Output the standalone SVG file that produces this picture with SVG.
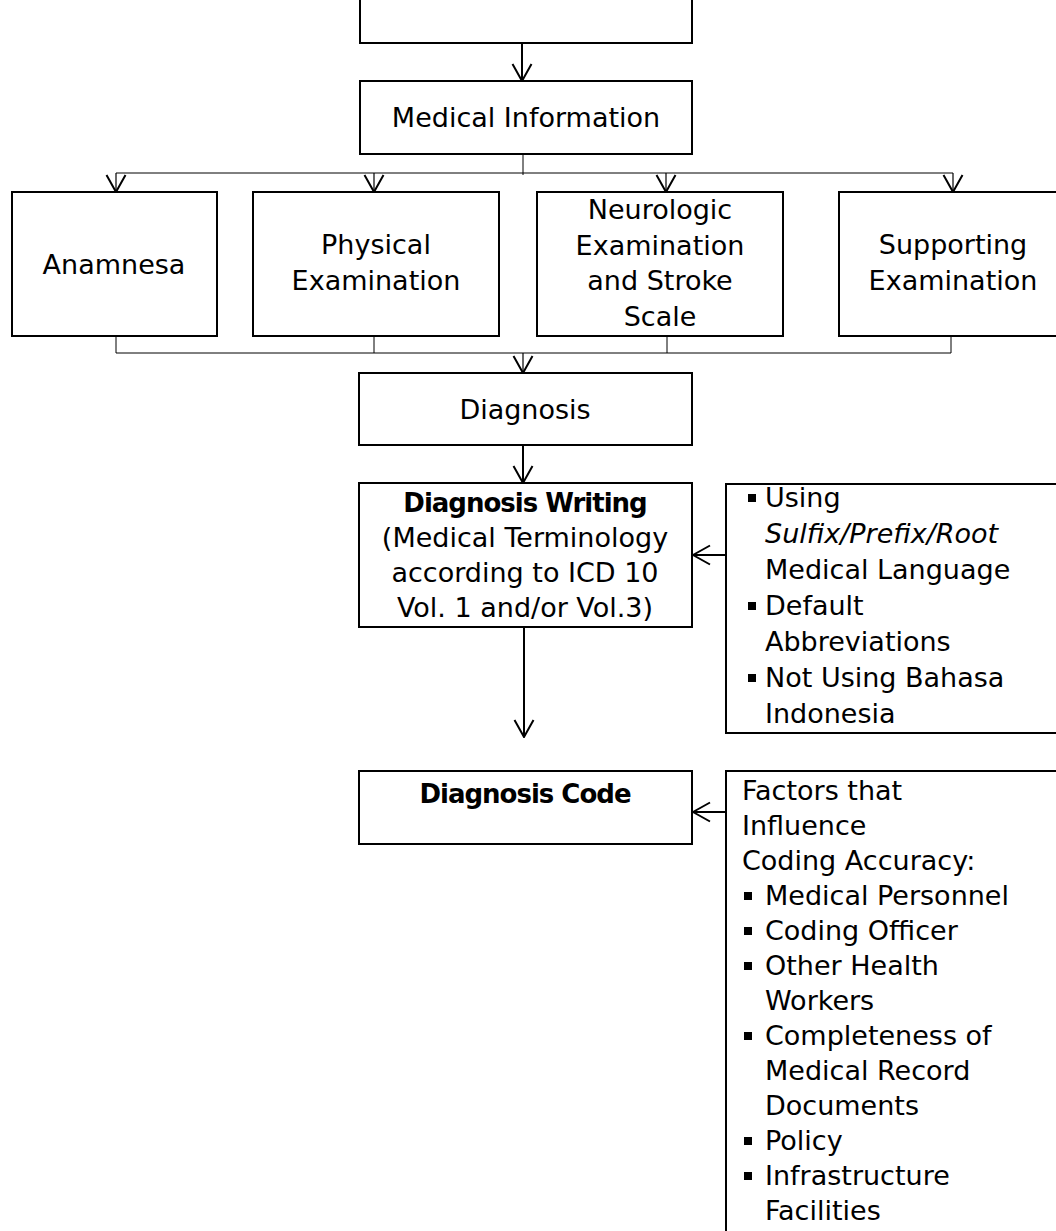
<svg xmlns="http://www.w3.org/2000/svg" width="1056" height="1231" viewBox="0 0 1056 1231">
<style>
.box{fill:#fff;stroke:#000;stroke-width:2}
.t{font-family:"DejaVu Sans",Verdana,sans-serif;font-size:27px;fill:#000}
.c{text-anchor:middle}
.b{font-weight:bold;font-size:26px;letter-spacing:-1px}
.i{font-style:italic}
.bul{fill:#000}
.thin{fill:none;stroke:#000;stroke-width:1}
.arr{fill:none;stroke:#000;stroke-width:2;marker-end:url(#ah)}
.arr1{fill:none;stroke:#000;stroke-width:1.2;marker-end:url(#ah)}
</style>
<defs>
<marker id="ah" viewBox="0 0 20 22" refX="19" refY="11" markerWidth="20" markerHeight="22" markerUnits="userSpaceOnUse" orient="auto">
<path d="M2,1.5 L19,11 L2,20.5" fill="none" stroke="#000" stroke-width="2"/>
</marker>
</defs>
<rect width="1056" height="1231" fill="#fff"/>

<g id="top-box"><rect class="box" x="360" y="-20" width="332" height="63"/></g>

<g id="medical-information"><rect class="box" x="360" y="81" width="332" height="73"/>
<text class="t c" x="526" y="127">Medical Information</text></g>

<g id="anamnesa"><rect class="box" x="12" y="192" width="205" height="144"/>
<text class="t c" x="114" y="274">Anamnesa</text></g>

<g id="physical"><rect class="box" x="253" y="192" width="246" height="144"/>
<text class="t c" x="376" y="254">Physical</text>
<text class="t c" x="376" y="290">Examination</text></g>

<g id="neurologic"><rect class="box" x="537" y="192" width="246" height="144"/>
<text class="t c" x="660" y="219">Neurologic</text>
<text class="t c" x="660" y="254.5">Examination</text>
<text class="t c" x="660" y="290">and Stroke</text>
<text class="t c" x="660" y="325.5">Scale</text></g>

<g id="supporting"><rect class="box" x="839" y="192" width="228" height="144"/>
<text class="t c" x="953" y="254">Supporting</text>
<text class="t c" x="953" y="290">Examination</text></g>

<g id="diagnosis"><rect class="box" x="359" y="373" width="333" height="72"/>
<text class="t c" x="525" y="419">Diagnosis</text></g>

<g id="diagnosis-writing"><rect class="box" x="359" y="483" width="333" height="144"/>
<text class="t c b" x="525" y="512">Diagnosis Writing</text>
<text class="t c" x="525" y="547">(Medical Terminology</text>
<text class="t c" x="525" y="582">according to ICD 10</text>
<text class="t c" x="525" y="617">Vol. 1 and/or Vol.3)</text></g>

<g id="writing-rules"><rect class="box" x="726" y="484" width="340" height="249"/>
<rect class="bul" x="748" y="494" width="8" height="8"/>
<text class="t" x="765" y="507">Using</text>
<text class="t i" x="765" y="543">Sulfix/Prefix/Root</text>
<text class="t" x="765" y="579">Medical Language</text>
<rect class="bul" x="748" y="602" width="8" height="8"/>
<text class="t" x="765" y="615">Default</text>
<text class="t" x="765" y="651">Abbreviations</text>
<rect class="bul" x="748" y="674" width="8" height="8"/>
<text class="t" x="765" y="687">Not Using Bahasa</text>
<text class="t" x="765" y="723">Indonesia</text></g>

<g id="diagnosis-code"><rect class="box" x="359" y="771" width="333" height="73"/>
<text class="t c b" x="525" y="803">Diagnosis Code</text></g>

<g id="factors"><rect class="box" x="726" y="771" width="340" height="480"/>
<text class="t" x="742" y="800">Factors that</text>
<text class="t" x="742" y="835">Influence</text>
<text class="t" x="742" y="870">Coding Accuracy:</text>
<rect class="bul" x="744" y="892" width="8" height="8"/>
<text class="t" x="765" y="905">Medical Personnel</text>
<rect class="bul" x="744" y="927" width="8" height="8"/>
<text class="t" x="765" y="940">Coding Officer</text>
<rect class="bul" x="744" y="962" width="8" height="8"/>
<text class="t" x="765" y="975">Other Health</text>
<text class="t" x="765" y="1010">Workers</text>
<rect class="bul" x="744" y="1032" width="8" height="8"/>
<text class="t" x="765" y="1045">Completeness of</text>
<text class="t" x="765" y="1080">Medical Record</text>
<text class="t" x="765" y="1115">Documents</text>
<rect class="bul" x="744" y="1137" width="8" height="8"/>
<text class="t" x="765" y="1150">Policy</text>
<rect class="bul" x="744" y="1172" width="8" height="8"/>
<text class="t" x="765" y="1185">Infrastructure</text>
<text class="t" x="765" y="1220">Facilities</text></g>

<g id="connectors">
<path class="arr" d="M522,43 V81"/>
<path class="thin" d="M523,154 V175 M116,173 H953"/>
<path class="arr1" d="M116,173 V192"/>
<path class="arr1" d="M374,173 V192"/>
<path class="arr1" d="M666,173 V192"/>
<path class="arr1" d="M953,173 V192"/>
<path class="thin" d="M116,336 V353 M374,336 V353 M667,336 V353 M951,336 V353 M116,353 H951"/>
<path class="arr1" d="M523,353 V373"/>
<path class="arr" d="M523,445 V483"/>
<path class="arr" d="M524,627 V737"/>
<path class="arr" d="M726,555 H693"/>
<path class="arr" d="M726,812 H693"/>
</g>
</svg>
